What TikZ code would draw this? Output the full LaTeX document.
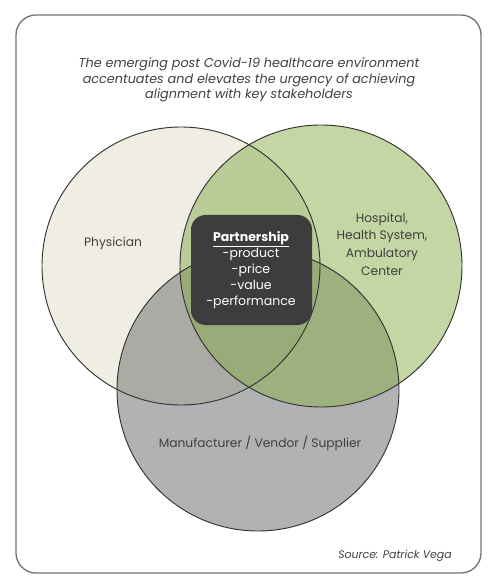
\documentclass[tikz,border=0pt]{standalone}
\usepackage{fontspec}
\setmainfont{Poppins}
\definecolor{cream}{HTML}{F0EEE3}
\definecolor{leaf}{HTML}{C3D6A3}
\definecolor{steel}{HTML}{B1B2B4}
\definecolor{creamleaf}{HTML}{B9CB97}
\definecolor{creamsteel}{HTML}{ABABA5}
\definecolor{leafsteel}{HTML}{9DB17F}
\definecolor{allthree}{HTML}{97AC79}
\definecolor{ink}{HTML}{404040}
\definecolor{boxfill}{HTML}{3D3D3D}
\tikzset{
  label/.style={text=ink,align=center,font=\fontsize{9.2}{13.3}\selectfont},
  ring/.style={draw=black!80,line width=0.7pt}
}
\begin{document}
\begin{tikzpicture}[x=0.75pt,y=-0.75pt]
\useasboundingbox (0,0) rectangle (500,584);
\draw[black!55,line width=1pt,rounded corners=15pt] (16,15) rectangle (481,573);
\node[label,font=\itshape\fontsize{9.6}{11.4}\selectfont] (title) at (249,80)
  {The emerging post Covid-19 healthcare environment\\accentuates and elevates the urgency of achieving\\alignment with key stakeholders};
% circles
\fill[cream] (181,266) circle (139);
\fill[leaf] (321,266) circle (141);
\fill[steel] (258,390) circle (141);
\begin{scope}
\clip (181,266) circle (139);
\fill[creamleaf] (321,266) circle (141);
\fill[creamsteel] (258,390) circle (141);
\end{scope}
\begin{scope}
\clip (321,266) circle (141);
\fill[leafsteel] (258,390) circle (141);
\clip (258,390) circle (141);
\fill[allthree] (181,266) circle (139);
\end{scope}
\draw[ring] (181,266) circle (139);
\draw[ring] (321,266) circle (141);
\draw[ring] (258,390) circle (141);
\node[label] (physician) at (113,243) {Physician};
\node[label] (hospital) at (382,244) {Hospital,\\Health System,\\Ambulatory\\Center};
\node[label] (maker) at (260,443) {Manufacturer / Vendor / Supplier};
% partnership box
\fill[boxfill,rounded corners=11pt] (191,215) rectangle (312,325);
\node[label,text=white,font=\fontsize{9.4}{12}\selectfont] (partner) at (251,270)
  {{\bfseries\underline{Partnership}}\\-product\\-price\\-value\\-performance};
\node[label,font=\itshape\fontsize{8.2}{10}\selectfont] (source) at (395,556) {Source: Patrick Vega};
\end{tikzpicture}
\end{document}
